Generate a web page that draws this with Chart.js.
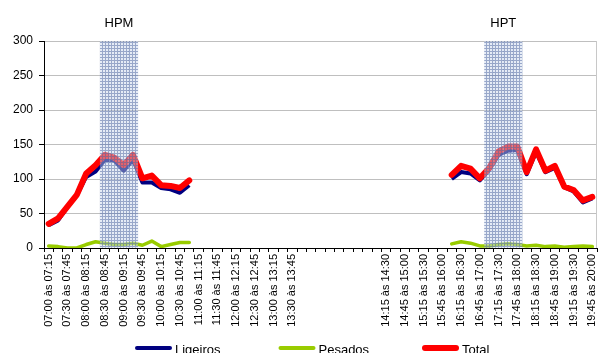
<!DOCTYPE html>
<html><head><meta charset="utf-8">
<script src="https://cdn.jsdelivr.net/npm/chart.js@4/dist/chart.umd.min.js"></script>
<style>html,body{margin:0;padding:0;background:#fff;overflow:hidden}</style>
</head><body>
<canvas id="c" width="599" height="353"></canvas>
<script>
// ---- categories (15-minute slots) ----
const slotsAM = ['07:00 às 07:15','07:15 às 07:30','07:30 às 07:45','07:45 às 08:00',
  '08:00 às 08:15','08:15 às 08:30','08:30 às 08:45','08:45 às 09:00',
  '09:00 às 09:15','09:15 às 09:30','09:30 às 09:45','09:45 às 10:00',
  '10:00 às 10:15','10:15 às 10:30','10:30 às 10:45','10:45 às 11:00',
  '11:00 às 11:15','11:15 às 11:30','11:30 às 11:45','11:45 às 12:00',
  '12:00 às 12:15','12:15 às 12:30','12:30 às 12:45','12:45 às 13:00',
  '13:00 às 13:15','13:15 às 13:30','13:30 às 13:45','13:45 às 14:00'];
const slotsGap = ['','','','','','','',''];
const slotsPM = ['14:15 às 14:30','14:30 às 14:45','14:45 às 15:00','15:00 às 15:15',
  '15:15 às 15:30','15:30 às 15:45','15:45 às 16:00','16:00 às 16:15',
  '16:15 às 16:30','16:30 às 16:45','16:45 às 17:00','17:00 às 17:15',
  '17:15 às 17:30','17:30 às 17:45','17:45 às 18:00','18:00 às 18:15',
  '18:15 às 18:30','18:30 às 18:45','18:45 às 19:00','19:00 às 19:15',
  '19:15 às 19:30','19:30 às 19:45','19:45 às 20:00'];
const categories = [...slotsAM, ...slotsGap, ...slotsPM];

// ---- counted periods ----
const periodAM = ['07:00 às 07:15','10:45 às 11:00'];   // first / last counted slot
const periodPM = ['16:00 às 16:15','19:45 às 20:00'];

// ---- series values (morning period, afternoon period) ----
const ligeirosAM = [33, 40, 59, 76, 103, 111, 128, 127, 112, 128, 95, 95, 87, 85, 80, 91];
const pesadosAM  = [3, 2, 0, 0, 5, 9, 7, 5, 5, 7, 4, 10, 2, 5, 8, 8];
const totalAM    = [35, 43, 60, 77, 108, 120, 135, 131, 120, 135, 101, 105, 91, 90, 87, 98];

const ligeirosPM = [100, 110, 108, 98, 113, 135, 141, 142, 107, 139, 110, 116, 88, 82, 66, 72];
const pesadosPM  = [6, 9, 7, 3, 3, 5, 6, 5, 3, 4, 2, 3, 1, 2, 3, 2];
const totalPM    = [106, 119, 115, 101, 116, 140, 147, 147, 110, 143, 112, 119, 89, 84, 69, 74];

// ---- peak hours ----
const peakNames = ['HPM', 'HPT'];
const peakSlots = [
  ['08:30 às 08:45','08:45 às 09:00','09:00 às 09:15','09:15 às 09:30'],
  ['17:00 às 17:15','17:15 às 17:30','17:30 às 17:45','17:45 às 18:00']
];
const yTicks = [0, 50, 100, 150, 200, 250, 300];

// ---- build per-category series ----
function series(am, pm) {
  const out = categories.map(() => null);
  const a0 = categories.indexOf(periodAM[0]);
  am.forEach((v, i) => out[a0 + i] = v);
  const p0 = categories.indexOf(periodPM[0]);
  pm.forEach((v, i) => out[p0 + i] = v);
  return out;
}
const yMax = yTicks[yTicks.length - 1];
const band = categories.map(c => peakSlots.some(s => c !== '' && s.includes(c)) ? yMax : null);

const canvas = document.getElementById('c');
function makePattern(ctx) {
  const p = document.createElement('canvas');
  p.width = 3; p.height = 3;
  const g = p.getContext('2d');
  g.fillStyle = 'rgba(200,212,235,0.45)';
  g.fillRect(0, 0, 3, 3);
  g.fillStyle = 'rgba(75,100,158,0.5)';
  g.fillRect(0, 0, 3, 1);
  g.fillRect(0, 1, 1, 2);
  return ctx.createPattern(p, 'repeat');
}
const pattern = makePattern(canvas.getContext('2d'));

const FONT = "'Liberation Sans', Arial, sans-serif";

const annot = {
  id: 'annot',
  afterDraw(chart) {
    const ctx = chart.ctx, xs = chart.scales.x, area = chart.chartArea;
    ctx.save();
    // right border of plot area
    ctx.strokeStyle = '#c8c8c8';
    ctx.lineWidth = 1;
    ctx.beginPath();
    ctx.moveTo(Math.round(area.right) - 0.5, area.top);
    ctx.lineTo(Math.round(area.right) - 0.5, area.bottom);
    ctx.stroke();

    ctx.fillStyle = '#000';
    ctx.font = '13px ' + FONT;
    ctx.textAlign = 'center';
    ctx.textBaseline = 'middle';
    peakSlots.forEach((s, k) => {
      const a = xs.getPixelForValue(categories.indexOf(s[0]));
      const b = xs.getPixelForValue(categories.indexOf(s[s.length - 1]));
      ctx.fillText(peakNames[k], (a + b) / 2, area.top - 18);
    });
    // legend
    const items = ['Ligeiros', 'Pesados', 'Total'].map(n => chart.data.datasets.find(d => d.label === n));
    const y = 348;
    items.forEach((d, i) => {
      const x0 = 135 + i * 143.5;
      const h = d.label === 'Total' ? 6 : 4;
      ctx.beginPath();
      ctx.lineCap = 'round';
      ctx.strokeStyle = d.borderColor;
      ctx.lineWidth = h;
      ctx.moveTo(x0 + h / 2, y);
      ctx.lineTo(x0 + 37 - h / 2, y);
      ctx.stroke();
      ctx.fillStyle = '#000';
      ctx.textAlign = 'left';
      ctx.font = '13px ' + FONT;
      ctx.fillText(d.label, x0 + 40, y + 2);
    });
    ctx.restore();
  }
};

new Chart(canvas, {
  data: {
    labels: categories,
    datasets: [
      { type: 'bar', label: 'Horas de ponta', data: band, backgroundColor: pattern,
        borderWidth: 0, barPercentage: 1, categoryPercentage: 1, order: 0 },
      { type: 'line', label: 'Total', data: series(totalAM, totalPM), borderColor: '#ff0000',
        borderWidth: 6, pointRadius: 0, tension: 0, order: 1, borderJoinStyle: 'round', borderCapStyle: 'round', spanGaps: false },
      { type: 'line', label: 'Ligeiros', data: series(ligeirosAM, ligeirosPM), borderColor: '#000080',
        borderWidth: 4, pointRadius: 0, tension: 0, order: 2, borderJoinStyle: 'round', spanGaps: false },
      { type: 'line', label: 'Pesados', data: series(pesadosAM, pesadosPM), borderColor: '#99cc00',
        borderWidth: 3.5, pointRadius: 0, tension: 0, order: 3, borderJoinStyle: 'round', borderCapStyle: 'round', spanGaps: false }
    ]
  },
  options: {
    responsive: false,
    animation: false,
    devicePixelRatio: 1,
    layout: { padding: { top: 41, right: 2, left: 0, bottom: 0 } },
    plugins: { legend: { display: false }, tooltip: { enabled: false } },
    scales: {
      x: {
        type: 'category',
        offset: true,
        grid: { display: true, drawOnChartArea: false, offset: true, tickLength: 4, tickColor: '#000', color: '#000' },
        border: { color: '#000', width: 1 },
        ticks: {
          autoSkip: false, minRotation: 90, maxRotation: 90, padding: 2,
          color: '#000', font: { size: 11, family: FONT },
          callback(v, i) { return i % 2 === 0 ? categories[i] : ''; }
        },
        afterFit(s) { s.height = 105; s.paddingLeft = 0; s.paddingRight = 0; }
      },
      y: {
        min: 0, max: yMax,
        afterBuildTicks(s) { s.ticks = yTicks.map(v => ({ value: v })); },
        grid: { color: '#bfbfbf', tickColor: '#000', tickLength: 5 },
        border: { color: '#000', width: 1 },
        ticks: { padding: 6, color: '#000', font: { size: 12, family: FONT } },
        afterFit(s) { s.width = 44; s.paddingTop = 0; s.paddingBottom = 0; }
      }
    }
  },
  plugins: [annot]
});
</script>
</body></html>
